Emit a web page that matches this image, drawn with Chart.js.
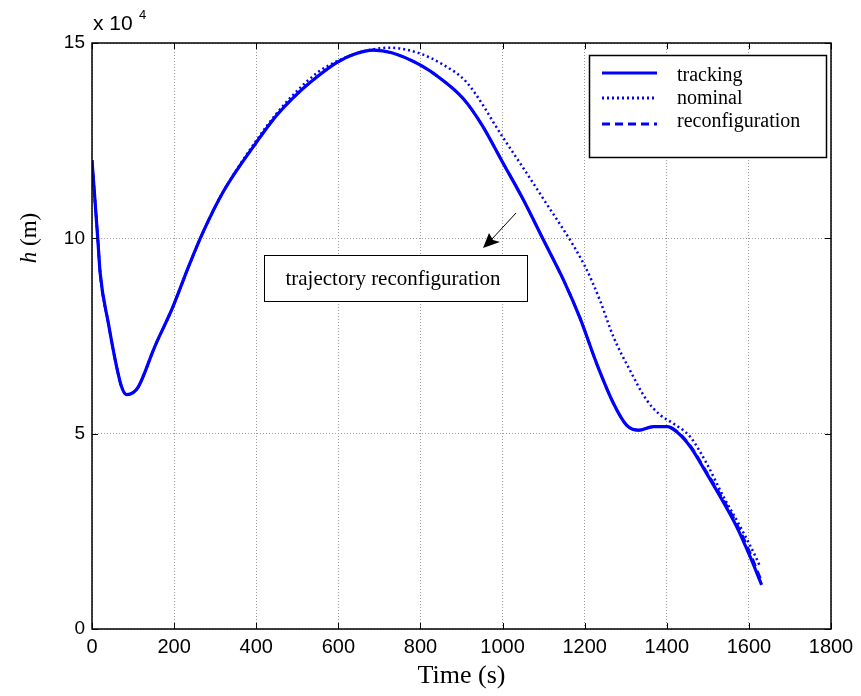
<!DOCTYPE html>
<html>
<head>
<meta charset="utf-8">
<script src="https://cdn.jsdelivr.net/npm/chart.js@4.4.1/dist/chart.umd.min.js"></script>
<style>
  html, body { margin: 0; padding: 0; background: #fff; }
  #wrap { width: 861px; height: 696px; position: relative; }
</style>
</head>
<body>
<div id="wrap"><canvas id="hChart" width="861" height="696"></canvas></div>
<script>
// time (s) and altitude (x 10^4 m)
const trackT = [0, 14, 20, 40, 60, 72, 84, 100, 113, 153, 196, 235, 271, 320, 400, 450, 500, 550, 596, 640, 685, 730, 799, 848, 904, 950, 1000, 1050, 1100, 1150, 1189, 1229, 1270, 1302, 1331, 1367, 1401, 1424, 1457, 1497, 1530, 1570, 1603, 1631];
const trackH = [12.0, 10.0, 9.1, 7.82, 6.71, 6.2, 6.0, 6.05, 6.2, 7.23, 8.22, 9.27, 10.17, 11.2, 12.45, 13.15, 13.7, 14.15, 14.5, 14.72, 14.82, 14.75, 14.44, 14.1, 13.58, 12.9, 11.95, 11.0, 9.95, 8.9, 7.95, 6.8, 5.78, 5.22, 5.09, 5.18, 5.18, 5.05, 4.67, 3.98, 3.39, 2.62, 1.85, 1.13];

const nomT = [0, 14, 20, 40, 60, 72, 84, 100, 113, 153, 196, 235, 271, 320, 400, 450, 500, 550, 600, 650, 690, 726, 799, 856, 912, 1000, 1100, 1200, 1237, 1270, 1310, 1351, 1384, 1416, 1457, 1497, 1538, 1579, 1620, 1627];
const nomH = [12.0, 10.0, 9.1, 7.82, 6.71, 6.2, 6.0, 6.05, 6.2, 7.23, 8.22, 9.27, 10.17, 11.2, 12.5, 13.2, 13.78, 14.25, 14.55, 14.75, 14.85, 14.88, 14.73, 14.44, 14.0, 12.6, 11.0, 9.3, 8.42, 7.48, 6.63, 5.86, 5.48, 5.26, 4.92, 4.24, 3.39, 2.62, 1.77, 1.6];

const reconfT = [0, 14, 20, 40, 60, 72, 84, 100, 113, 153, 196, 235, 271, 320, 400, 450, 500, 550, 596, 640, 685, 730, 799, 848, 904, 950, 1000, 1050, 1100, 1150, 1189, 1229, 1270, 1302, 1331, 1367, 1401, 1424, 1457, 1497, 1530, 1570, 1603, 1628];
const reconfH = [12.0, 10.0, 9.1, 7.82, 6.71, 6.2, 6.0, 6.05, 6.2, 7.23, 8.22, 9.27, 10.17, 11.2, 12.45, 13.15, 13.7, 14.15, 14.5, 14.72, 14.82, 14.75, 14.44, 14.1, 13.58, 12.9, 11.95, 11.0, 9.95, 8.9, 7.95, 6.8, 5.78, 5.22, 5.09, 5.18, 5.18, 5.07, 4.7, 4.02, 3.45, 2.7, 1.95, 1.3];

const xTicks = [0, 200, 400, 600, 800, 1000, 1200, 1400, 1600, 1800];
const yTicks = [0, 5, 10, 15];

const BLUE = "#0000ff";
const SERIF = "'Liberation Serif', 'Times New Roman', serif";
const SANS = "'Liberation Sans', Arial, sans-serif";

function pts(ts, hs) {
    return ts.map((t, i) => ({ x: t, y: hs[i] }));
}

// box, inner ticks, legend, annotation and the exponent label
const decorPlugin = {
    id: "decor",
    afterDraw(chart) {
        const ctx = chart.ctx;
        const a = chart.chartArea;
        const xs = chart.scales.x;
        const ys = chart.scales.y;
        ctx.save();

        // axes box
        ctx.strokeStyle = "#000";
        ctx.lineWidth = 1.5;
        ctx.setLineDash([]);
        ctx.strokeRect(a.left, a.top, a.right - a.left, a.bottom - a.top);

        // inner tick marks on all four sides
        ctx.lineWidth = 1;
        ctx.beginPath();
        xTicks.forEach(v => {
            const px = Math.round(xs.getPixelForValue(v)) + 0.5;
            ctx.moveTo(px, a.bottom); ctx.lineTo(px, a.bottom - 6);
            ctx.moveTo(px, a.top); ctx.lineTo(px, a.top + 6);
        });
        yTicks.forEach(v => {
            const py = Math.round(ys.getPixelForValue(v)) + 0.5;
            ctx.moveTo(a.left, py); ctx.lineTo(a.left + 6, py);
            ctx.moveTo(a.right, py); ctx.lineTo(a.right - 6, py);
        });
        ctx.stroke();

        // x 10^4
        ctx.fillStyle = "#000";
        ctx.textBaseline = "alphabetic";
        ctx.textAlign = "left";
        ctx.font = "21px " + SANS;
        ctx.fillText("x 10", 93, 30);
        ctx.font = "13px " + SANS;
        ctx.fillText("4", 139, 19);

        // y title
        ctx.save();
        ctx.translate(36, 238);
        ctx.rotate(-Math.PI / 2);
        ctx.textAlign = "left";
        ctx.font = "italic 23px " + SERIF;
        const hW = ctx.measureText("h").width;
        ctx.font = "23px " + SERIF;
        const restW = ctx.measureText(" (m)").width;
        const start = -(hW + restW) / 2;
        ctx.font = "italic 23px " + SERIF;
        ctx.fillText("h", start, 0);
        ctx.font = "23px " + SERIF;
        ctx.fillText(" (m)", start + hW, 0);
        ctx.restore();

        // legend
        ctx.fillStyle = "#fff";
        ctx.fillRect(589, 55, 237, 102);
        ctx.strokeStyle = "#000";
        ctx.lineWidth = 1.5;
        ctx.strokeRect(589.5, 55.5, 237, 102);
        const legendRows = [
            { label: "tracking", dash: [], y: 73 },
            { label: "nominal", dash: [2, 3], y: 98 },
            { label: "reconfiguration", dash: [8, 5], y: 124 }
        ];
        legendRows.forEach(r => {
            ctx.strokeStyle = BLUE;
            ctx.lineWidth = 3;
            ctx.setLineDash(r.dash);
            ctx.beginPath();
            ctx.moveTo(602, r.y);
            ctx.lineTo(657, r.y);
            ctx.stroke();
        });
        ctx.setLineDash([]);
        ctx.fillStyle = "#000";
        ctx.font = "20px " + SERIF;
        ctx.textBaseline = "middle";
        ctx.fillText("tracking", 677, 76);
        ctx.fillText("nominal", 677, 99);
        ctx.fillText("reconfiguration", 677, 122);

        // annotation box
        ctx.fillStyle = "#fff";
        ctx.fillRect(264, 255, 263, 46);
        ctx.strokeStyle = "#000";
        ctx.lineWidth = 1;
        ctx.strokeRect(264.5, 255.5, 263, 46);
        ctx.fillStyle = "#000";
        ctx.textAlign = "center";
        ctx.font = "21px " + SERIF;
        ctx.fillText("trajectory reconfiguration", 393, 279);

        // arrow
        ctx.beginPath();
        ctx.moveTo(516, 213);
        ctx.lineTo(492, 239);
        ctx.stroke();
        ctx.beginPath();
        ctx.moveTo(483, 248);
        ctx.lineTo(489, 233);
        ctx.lineTo(493, 240);
        ctx.lineTo(500, 242);
        ctx.closePath();
        ctx.fill();

        ctx.restore();
    }
};

const ctx = document.getElementById("hChart").getContext("2d");
new Chart(ctx, {
    type: "line",
    data: {
        datasets: [
            {
                label: "nominal",
                data: pts(nomT, nomH),
                borderColor: BLUE,
                borderWidth: 2.5,
                borderDash: [2, 3],
                pointRadius: 0,
                cubicInterpolationMode: "monotone"
            },
            {
                label: "reconfiguration",
                data: pts(reconfT, reconfH),
                borderColor: BLUE,
                borderWidth: 2.5,
                borderDash: [8, 5],
                pointRadius: 0,
                cubicInterpolationMode: "monotone"
            },
            {
                label: "tracking",
                data: pts(trackT, trackH),
                borderColor: BLUE,
                borderWidth: 3.2,
                pointRadius: 0,
                cubicInterpolationMode: "monotone"
            }
        ]
    },
    options: {
        responsive: false,
        animation: false,
        layout: { padding: { top: 43, right: 30, left: 0, bottom: 0 } },
        plugins: { legend: { display: false }, tooltip: { enabled: false } },
        scales: {
            x: {
                type: "linear",
                min: 0,
                max: 1800,
                afterFit(scale) { scale.height = 67; },
                afterBuildTicks(scale) { scale.ticks = xTicks.map(v => ({ value: v })); },
                grid: { color: "#9a9a9a", lineWidth: 1, drawTicks: false },
                border: { display: false, dash: [1, 2] },
                ticks: {
                    padding: 6,
                    color: "#000",
                    font: { family: SANS, size: 20 },
                    maxRotation: 0,
                    callback: v => String(v)
                },
                title: {
                    display: true,
                    text: "Time (s)",
                    color: "#000",
                    font: { family: SERIF, size: 26 },
                    padding: { top: 0 }
                }
            },
            y: {
                min: 0,
                max: 15,
                afterFit(scale) { scale.width = 92; },
                afterBuildTicks(scale) { scale.ticks = yTicks.map(v => ({ value: v })); },
                grid: { color: "#9a9a9a", lineWidth: 1, drawTicks: false },
                border: { display: false, dash: [1, 2] },
                ticks: {
                    padding: 7,
                    color: "#000",
                    font: { family: SANS, size: 19 },
                    callback: v => String(v)
                }
            }
        }
    },
    plugins: [decorPlugin]
});
</script>
</body>
</html>
